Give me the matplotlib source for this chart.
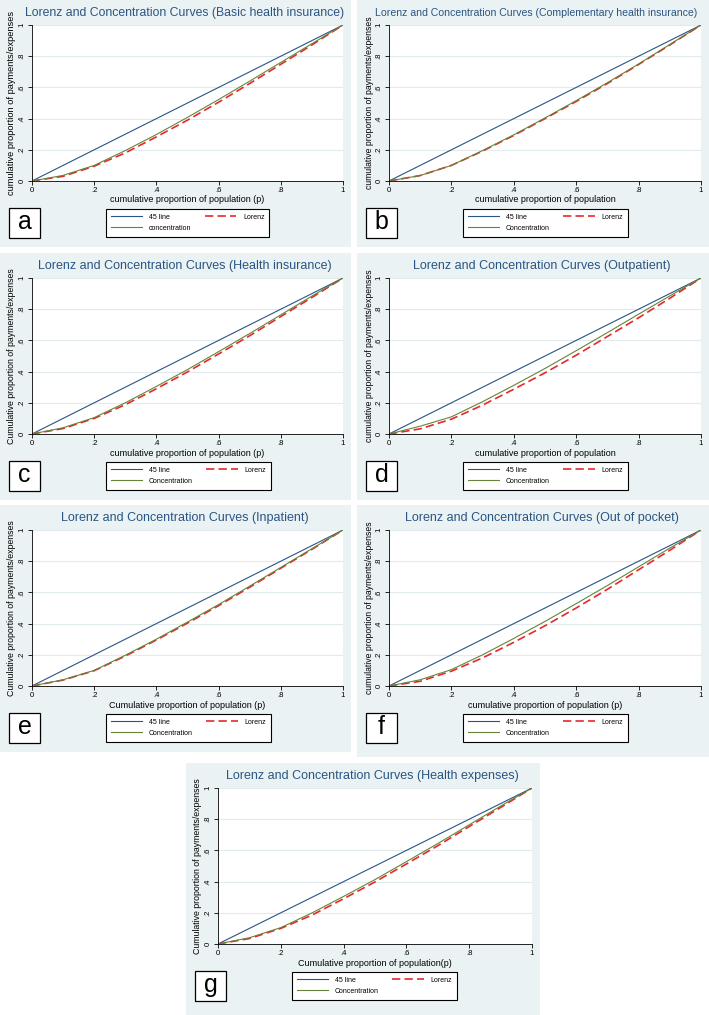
import matplotlib
matplotlib.use("Agg")
import matplotlib.pyplot as plt
from matplotlib.patches import Rectangle

plt.rcParams['font.family'] = ['Liberation Sans', 'DejaVu Sans']

# cumulative proportion of population
p = [0, .1, .2, .3, .4, .5, .6, .7, .8, .9, 1]

# Lorenz / concentration ordinates
lorenz_a = [0, .030, .095, .180, .283, .390, .505, .625, .748, .872, 1]
conc_a = [0, .036, .100, .195, .298, .408, .522, .640, .760, .880, 1]
lorenz_b = [0, .035, .100, .192, .292, .400, .510, .625, .747, .872, 1]
conc_b = [0, .035, .100, .195, .296, .404, .515, .630, .750, .875, 1]
lorenz_c = [0, .035, .100, .188, .290, .398, .513, .630, .753, .875, 1]
conc_c = [0, .040, .105, .200, .305, .413, .528, .644, .764, .884, 1]
lorenz_d = [0, .033, .095, .185, .287, .392, .505, .625, .745, .870, 1]
conc_d = [0, .050, .110, .207, .312, .420, .534, .650, .768, .885, 1]
lorenz_e = [0, .038, .098, .192, .295, .403, .515, .633, .755, .876, 1]
conc_e = [0, .040, .100, .197, .300, .410, .522, .640, .760, .880, 1]
lorenz_f = [0, .030, .095, .180, .280, .386, .500, .620, .745, .870, 1]
conc_f = [0, .040, .105, .200, .305, .414, .528, .644, .764, .884, 1]
lorenz_g = [0, .035, .100, .186, .290, .398, .513, .630, .753, .875, 1]
conc_g = [0, .040, .105, .200, .305, .413, .528, .644, .764, .884, 1]

ticks = [0, .2, .4, .6, .8, 1]
tick_labels = ['0', '.2', '.4', '.6', '.8', '1']

titles = ['Lorenz and Concentration Curves (Basic health insurance)',
          'Lorenz and Concentration Curves (Complementary health insurance)',
          'Lorenz and Concentration Curves (Health insurance)',
          'Lorenz and Concentration Curves (Outpatient)',
          'Lorenz and Concentration Curves (Inpatient)',
          'Lorenz and Concentration Curves (Out of pocket)',
          'Lorenz and Concentration Curves (Health expenses)']
ylabels = ['cumulative proportion of payments/expenses',
           'cumulative proportion of payments/expenses',
           'Cumulative proportion of payments/expenses',
           'cumulative proportion of payments/expenses',
           'Cumulative proportion of payments/expenses',
           'cumulative proportion of payments/expenses',
           'Cumulative proportion of payments/expenses']
xlabels = ['cumulative proportion of population (p)',
           'cumulative proportion of population',
           'cumulative proportion of population (p)',
           'cumulative proportion of population',
           'Cumulative proportion of population (p)',
           'cumulative proportion of population (p)',
           'Cumulative proportion of population(p)']
conc_labels = ['concentration', 'Concentration', 'Concentration', 'Concentration',
               'Concentration', 'Concentration', 'Concentration']
letters = ['a', 'b', 'c', 'd', 'e', 'f', 'g']
lorenz_all = [lorenz_a, lorenz_b, lorenz_c, lorenz_d, lorenz_e, lorenz_f, lorenz_g]
conc_all = [conc_a, conc_b, conc_c, conc_d, conc_e, conc_f, conc_g]

# panel boxes in pixels (left, top, right, bottom)
boxes = [(0, 0, 351, 247), (357, 0, 709, 247),
         (0, 253, 351, 500), (357, 253, 709, 500),
         (0, 505, 351, 752), (357, 505, 709, 757),
         (186, 763, 540, 1015)]
title_sizes = [8.8, 7.6, 9.0, 9.0, 9.0, 9.0, 9.0]
title_shift = [-3, -9, -3, -3, -3, -3, -3]
ylab_sizes = [6.7, 6.2, 6.3, 6.2, 6.3, 6.2, 6.3]

W, H = 709, 1015
BG = '#eaf2f3'
GRID = '#e1eaed'
navy = '#2a5583'
red = '#e8282b'
green = '#64843a'

fig = plt.figure(figsize=(W / 100, H / 100), dpi=100)


def fx(x):
    return x / W


def fy(y):
    return 1 - y / H


for i in range(7):
    x0, y0, x1, y1 = boxes[i]
    fig.patches.append(Rectangle((fx(x0), fy(y1)), (x1 - x0) / W, (y1 - y0) / H,
                                 transform=fig.transFigure, facecolor=BG,
                                 edgecolor='none', zorder=-5))
    pl, pr, pt, pb = x0 + 32, x1 - 8, y0 + 25, y0 + 181
    ax = fig.add_axes([fx(pl), fy(pb), (pr - pl) / W, (pb - pt) / H])
    ax.set_facecolor('white')
    ax.set_zorder(2)

    h45, = ax.plot(p, p, color=navy, lw=0.8)
    hlor, = ax.plot(p, lorenz_all[i], color=red, lw=1.2, dashes=(5, 2.5))
    hcon, = ax.plot(p, conc_all[i], color=green, lw=0.8)

    ax.set_xlim(0, 1)
    ax.set_ylim(0, 1)
    ax.set_xticks(ticks)
    ax.set_xticklabels(tick_labels)
    ax.set_yticks(ticks)
    ax.set_yticklabels(tick_labels, rotation=90, va='center')
    ax.tick_params(length=3, width=0.6, labelsize=5.6, pad=1.5, colors='black')
    ax.yaxis.grid(True, color=GRID, lw=0.8)
    ax.set_axisbelow(True)
    for s in ['top', 'right']:
        ax.spines[s].set_visible(False)
    for s in ['left', 'bottom']:
        ax.spines[s].set_linewidth(0.6)
        ax.spines[s].set_color('black')

    cx = (pl + pr) / 2
    fig.text(fx(cx + title_shift[i]), fy(y0 + 13), titles[i], ha='center',
             va='center', fontsize=title_sizes[i], color=navy)
    fig.text(fx(cx), fy(y0 + 200), xlabels[i], ha='center', va='center',
             fontsize=6.5, color='black')
    fig.text(fx(x0 + 12), fy((pt + pb) / 2), ylabels[i], ha='center', va='center',
             rotation=90, fontsize=ylab_sizes[i], color='black')

    leg = fig.legend([h45, hcon, hlor], ['45 line', conc_labels[i], 'Lorenz'],
                     ncol=2, loc='upper left',
                     bbox_to_anchor=(fx(x0 + 106), fy(y0 + 209)),
                     fontsize=5, frameon=True, fancybox=False, edgecolor='black',
                     framealpha=1, borderpad=0.7, handlelength=4.5,
                     handletextpad=1.0, columnspacing=1.9, labelspacing=0.55,
                     borderaxespad=0)
    leg.get_frame().set_linewidth(0.8)

    fig.patches.append(Rectangle((fx(x0 + 9), fy(y0 + 238)), 31 / W, 30 / H,
                                 transform=fig.transFigure, facecolor='white',
                                 edgecolor='black', lw=0.9, zorder=1))
    fig.text(fx(x0 + 24.5), fy(y0 + 222), letters[i], ha='center', va='center',
             fontsize=18, color='black', zorder=2)

plt.savefig('out.png', dpi=100, facecolor='white')
